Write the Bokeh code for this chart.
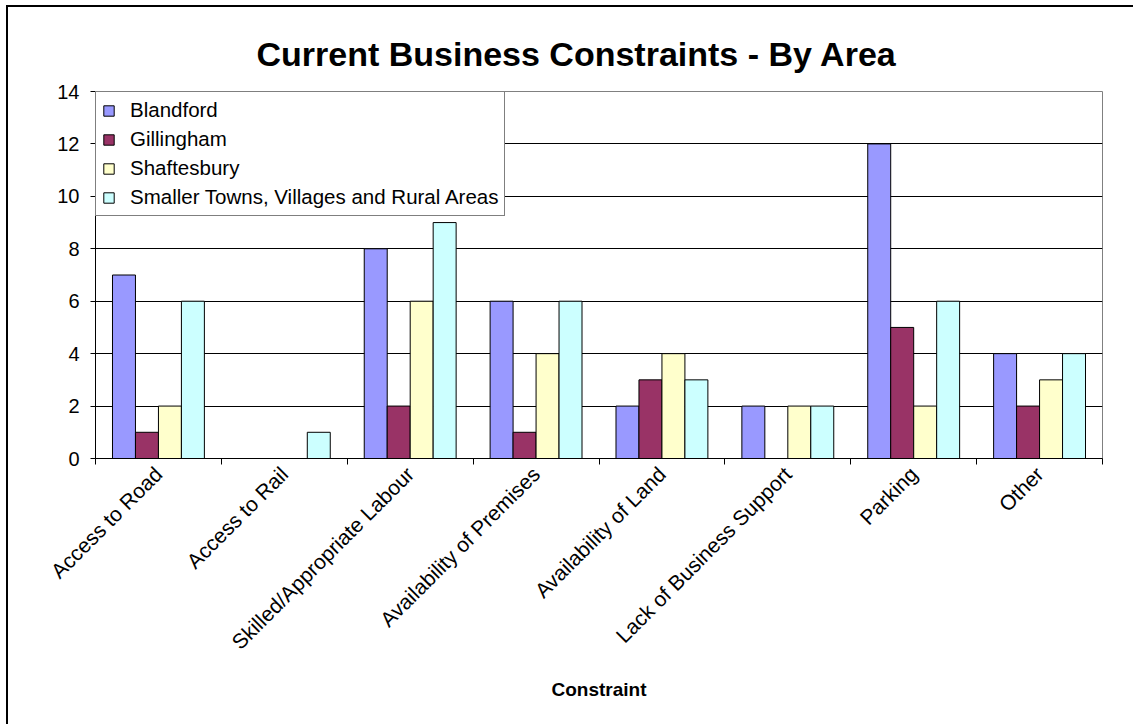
import math
from bokeh.plotting import figure
from bokeh.models import (Range1d, LinearAxis, FixedTicker, InlineStyleSheet,
                          Legend, LegendItem, ColumnDataSource)
from bokeh.transform import dodge
from bokeh.embed import file_html
from bokeh.resources import INLINE

# ---- data ----
categories = ["Access to Road", "Access to Rail", "Skilled/Appropriate Labour",
              "Availability of Premises", "Availability of Land",
              "Lack of Business Support", "Parking", "Other"]
series_names = ["Blandford", "Gillingham", "Shaftesbury",
                "Smaller Towns, Villages and Rural Areas"]
blandford = [7, 0, 8, 6, 2, 2, 12, 4]
gillingham = [1, 0, 2, 1, 3, 0, 5, 2]
shaftesbury = [2, 0, 6, 4, 4, 2, 2, 3]
smaller = [6, 1, 9, 6, 3, 2, 6, 4]
y_ticks = [0, 2, 4, 6, 8, 10, 12, 14]
colors = ["#9999FF", "#993366", "#FFFFCC", "#CCFFFF"]

FONT = "Liberation Sans"

n = len(categories)
x_centers = [i + 0.5 for i in range(n)]
boundaries = list(range(n + 1))

src = ColumnDataSource(dict(x=x_centers, cat=categories, b=blandford, g=gillingham,
                            s=shaftesbury, t=smaller))

p = figure(width=1127, height=719,
           x_range=Range1d(0, n),
           y_range=Range1d(0, 14),
           x_axis_location=None, y_axis_location=None,
           output_backend="svg", toolbar_location=None,
           min_border_left=87, min_border_top=84,
           min_border_right=33, min_border_bottom=268)
p.stylesheets = [InlineStyleSheet(css=":host { border-left: 2px solid black; "
                                      "border-top: 2px solid black; "
                                      "margin-left: 6px; margin-top: 5px; }")]
p.background_fill_color = "white"
p.border_fill_color = "white"
p.outline_line_color = "#808080"
p.outline_line_width = 1

# title
p.title.text = "Current Business Constraints - By Area"
p.title.text_font = FONT
p.title.text_font_size = "34px"
p.title.text_font_style = "bold"
p.title.text_color = "black"
p.title.align = "left"
p.title.offset = 161
p.title.standoff = 38

# y axis
yaxis = LinearAxis(ticker=FixedTicker(ticks=y_ticks, minor_ticks=[]))
yaxis.axis_line_color = "black"
yaxis.major_tick_line_color = "black"
yaxis.major_tick_out = 5
yaxis.major_tick_in = 0
yaxis.minor_tick_line_color = None
yaxis.major_label_text_font = FONT
yaxis.major_label_text_font_size = "20px"
yaxis.major_label_text_color = "black"
yaxis.major_label_standoff = 11
p.add_layout(yaxis, "left")

# x axis: labels at category centres, ticks at category boundaries
xaxis = LinearAxis(ticker=FixedTicker(ticks=x_centers, minor_ticks=boundaries))
xaxis.major_label_overrides = {float(x): c for x, c in zip(x_centers, categories)}
xaxis.axis_line_color = "black"
xaxis.major_tick_line_color = None
xaxis.major_tick_out = 0
xaxis.major_tick_in = 0
xaxis.minor_tick_line_color = "black"
xaxis.minor_tick_out = 6
xaxis.minor_tick_in = 0
xaxis.major_label_orientation = math.pi / 4
xaxis.major_label_text_font = FONT
xaxis.major_label_text_font_size = "21px"
xaxis.major_label_text_color = "black"
xaxis.major_label_standoff = 6
xaxis.axis_label = "Constraint"
xaxis.axis_label_text_font = FONT
xaxis.axis_label_text_font_size = "19px"
xaxis.axis_label_text_font_style = "bold"
xaxis.axis_label_text_color = "black"
xaxis.axis_label_standoff = 14
p.add_layout(xaxis, "below")

# grid
p.xgrid.visible = False
p.ygrid.ticker = FixedTicker(ticks=y_ticks, minor_ticks=[])
p.ygrid.grid_line_color = "black"
p.ygrid.grid_line_width = 1

# bars
bar_w = 0.1825
offsets = [-1.5 * bar_w, -0.5 * bar_w, 0.5 * bar_w, 1.5 * bar_w]
cols = ["b", "g", "s", "t"]
items = []
for col, off, color, name in zip(cols, offsets, colors, series_names):
    r = p.vbar(x=dodge("x", off), top=col, width=bar_w,
               bottom=0, source=src, fill_color=color, line_color="black",
               line_width=1)
    items.append(LegendItem(label=name, renderers=[r]))

legend = Legend(items=items, location="top_left", margin=0, padding=6,
                spacing=5, glyph_width=13, glyph_height=13, label_standoff=15,
                label_height=22,
                label_text_font=FONT, label_text_font_size="20.5px",
                label_text_color="black", border_line_color="black",
                border_line_width=1, background_fill_color="white",
                background_fill_alpha=1.0)
p.add_layout(legend)

open("out.html", "w").write(file_html(p, INLINE))
